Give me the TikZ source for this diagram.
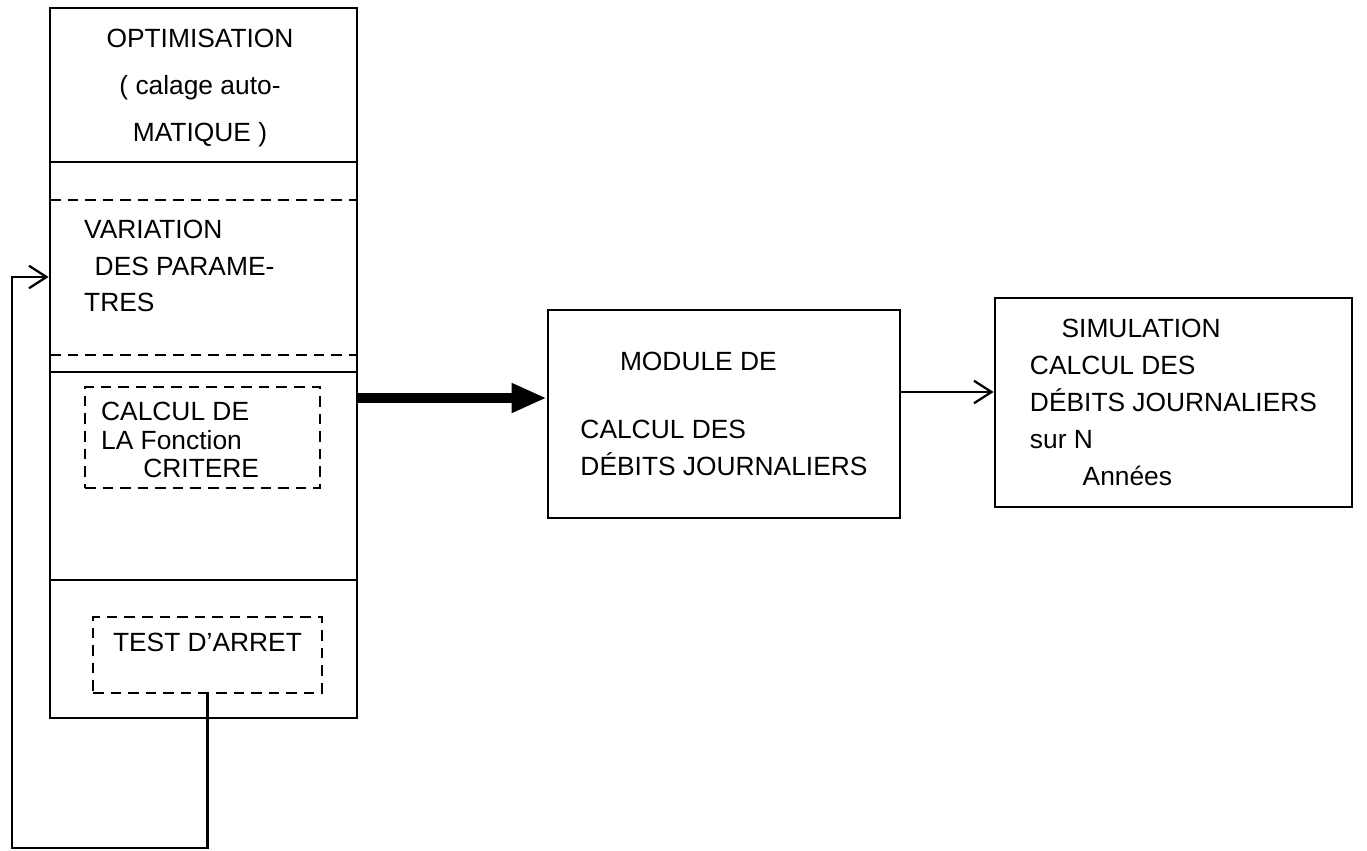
\documentclass[tikz,border=0pt]{standalone}
\usepackage{fontspec}
\setsansfont{Liberation Sans}
\usetikzlibrary{arrows.meta}

\begin{document}
\begin{tikzpicture}[x=0.02cm,y=-0.02cm,
    box/.style={draw=black,line width=1.6pt,inner sep=0pt},
    dbox/.style={draw=black,line width=1.4pt,dash pattern=on 6pt off 4pt,inner sep=0pt},
    txt/.style={font=\sffamily\fontsize{15}{21}\selectfont,align=left},
    link/.style={line width=1.3pt,-{Straight Barb[length=0.35cm,width=0.45cm]}}]
            \useasboundingbox (0,0) rectangle (1367,851);
            % Draw the optimisation column
            \node[box,minimum width=6.14cm,minimum height=14.2cm] (col) at (203.5,363) {};
            \foreach \y in {162,372,580}
                \draw[line width=1.6pt] (50,\y) -- (357,\y);
            \foreach \y in {200,355}
                \draw[dbox] (50,\y) -- (357,\y);
            % Texts of the column
            \node[txt,align=center,font=\sffamily\fontsize{15}{27}\selectfont] (optimtxt) at (200,88)
                {OPTIMISATION\\( calage auto-\\MATIQUE )};
            \node[txt,anchor=west] (vartxt) at (78,266)
                {VARIATION\\\hspace{0.4em}DES PARAME-\\TRES};
            % Inner dashed boxes
            \node[dbox,minimum width=4.7cm,minimum height=2.02cm] (crit) at (202.5,437.5) {};
            \node[txt,anchor=west,font=\sffamily\fontsize{15}{16}\selectfont] (crittxt) at (95,440)
                {CALCUL DE\\LA Fonction\\\hspace{1.6em}CRITERE};
            \node[dbox,txt,minimum width=4.58cm,minimum height=1.52cm] (stop) at (207.5,655)
                {TEST D'ARRET\\[-6pt]};
            % Module and simulation boxes
            \node[box,txt,minimum width=7.04cm,minimum height=4.16cm] (module) at (724,414)
                {\hspace{1.5em}MODULE DE\\[18pt]CALCUL DES\\DÉBITS JOURNALIERS};
            \node[box,txt,minimum width=7.14cm,minimum height=4.18cm] (simu) at (1173.5,402.5)
                {\hspace{1.2em}SIMULATION\\CALCUL DES\\DÉBITS JOURNALIERS\\sur N\\\hspace{2em}Années};
            % Connectors
            \coordinate (thick) at (0,398);
            \coordinate (thin) at (0,392);
            \coordinate (loopend) at (12,848);
            \coordinate (back) at (0,277);
            \draw[line width=6pt,-{Triangle[length=0.7cm,width=0.55cm]}] (col.east |- thick) -- (module.west |- thick);
            \draw[link] (module.east |- thin) -- (simu.west |- thin);
            \draw[link] (stop.south) |- (loopend) |- (col.west |- back);
        \end{tikzpicture}
\end{document}
